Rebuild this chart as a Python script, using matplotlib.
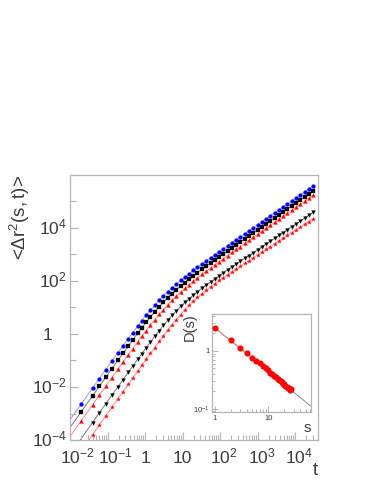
import numpy as np
import matplotlib
matplotlib.use("Agg")
import matplotlib.pyplot as plt
from matplotlib import ticker
from matplotlib.transforms import ScaledTranslation, blended_transform_factory

plt.rcParams['font.family'] = ['Liberation Sans', 'DejaVu Sans']
plt.rcParams['mathtext.fontset'] = 'custom'
plt.rcParams['mathtext.rm'] = 'Liberation Sans'
plt.rcParams['mathtext.it'] = 'Liberation Sans:italic'
plt.rcParams['mathtext.bf'] = 'Liberation Sans:bold'

# time grid; the first point (t=0.01) only carries the thin guide lines
t = [0.01, 0.02, 0.04, 0.06, 0.09, 0.13, 0.19, 0.26, 0.36, 0.47, 0.64, 0.82,
     1.07, 1.4, 1.8, 2.4, 3.1, 4.0, 5.2, 6.8, 8.9, 11.5, 15, 19.5, 25, 33, 43,
     56, 73, 95, 123, 160, 208, 270, 350, 456, 593, 770, 1000, 1300, 1690,
     2200, 2860, 3700, 4830, 6270, 8160, 10600, 13800, 17900, 23300, 30300]

# log10 <dr^2(s,t)>, one list per curve
logmsd_blue = [-3.24, -2.64, -2.04, -1.68, -1.34, -1.02, -0.70, -0.44, -0.17, 0.05, 0.30, 0.50,
               0.71, 0.90, 1.08, 1.28, 1.44, 1.59, 1.74, 1.88, 2.02, 2.15, 2.28, 2.40, 2.51, 2.64,
               2.76, 2.87, 2.99, 3.10, 3.22, 3.33, 3.45, 3.56, 3.67, 3.78, 3.90, 4.01, 4.12, 4.23,
               4.35, 4.46, 4.57, 4.68, 4.80, 4.91, 5.02, 5.14, 5.25, 5.36, 5.47, 5.59]
logmsd_square = [-3.53, -2.93, -2.33, -1.98, -1.63, -1.31, -0.99, -0.72, -0.45, -0.22, 0.03, 0.23,
                 0.44, 0.64, 0.83, 1.03, 1.20, 1.36, 1.52, 1.67, 1.81, 1.94, 2.07, 2.20, 2.32, 2.44,
                 2.56, 2.68, 2.80, 2.91, 3.03, 3.14, 3.25, 3.37, 3.48, 3.59, 3.71, 3.82, 3.93, 4.04,
                 4.16, 4.27, 4.38, 4.49, 4.61, 4.72, 4.83, 4.95, 5.06, 5.17, 5.28, 5.40]
logmsd_up = [-3.87, -3.27, -2.67, -2.32, -1.97, -1.65, -1.32, -1.05, -0.78, -0.55, -0.29, -0.09,
             0.13, 0.34, 0.53, 0.74, 0.92, 1.10, 1.27, 1.43, 1.58, 1.72, 1.86, 2.00, 2.12, 2.25,
             2.37, 2.49, 2.61, 2.73, 2.84, 2.96, 3.08, 3.19, 3.30, 3.42, 3.53, 3.65, 3.76, 3.87,
             3.99, 4.10, 4.22, 4.33, 4.44, 4.56, 4.67, 4.79, 4.90, 5.01, 5.13, 5.24]
logmsd_down = [-4.54, -3.94, -3.34, -2.98, -2.63, -2.31, -1.99, -1.72, -1.44, -1.21, -0.95, -0.74,
               -0.52, -0.30, -0.09, 0.13, 0.33, 0.51, 0.70, 0.87, 1.04, 1.19, 1.33, 1.47, 1.59, 1.73,
               1.85, 1.97, 2.08, 2.20, 2.31, 2.42, 2.53, 2.64, 2.75, 2.86, 2.96, 3.07, 3.18, 3.29,
               3.40, 3.50, 3.61, 3.72, 3.83, 3.94, 4.05, 4.15, 4.26, 4.37, 4.48, 4.59]
logmsd_star = [-5.00, -4.40, -3.80, -3.44, -3.09, -2.77, -2.44, -2.17, -1.89, -1.66, -1.40, -1.18,
               -0.96, -0.73, -0.52, -0.28, -0.07, 0.14, 0.34, 0.54, 0.73, 0.91, 1.08, 1.24, 1.38, 1.52,
               1.65, 1.78, 1.90, 2.02, 2.13, 2.24, 2.35, 2.45, 2.56, 2.67, 2.77, 2.88, 2.98, 3.09,
               3.19, 3.30, 3.40, 3.51, 3.61, 3.72, 3.82, 3.93, 4.03, 4.14, 4.24, 4.35]

# inset: diffusion coefficient against s
s_vals = [1, 2, 3, 4, 5, 6, 7, 8, 9, 10, 11, 12, 13, 14, 15, 16, 17, 18, 19, 20,
          21, 22, 23, 24, 25, 26, 27]
D_vals = [2.49, 1.52, 1.12, 0.91, 0.75, 0.67, 0.61, 0.55, 0.50, 0.46, 0.42, 0.40, 0.37, 0.36,
          0.33, 0.31, 0.30, 0.29, 0.27, 0.27, 0.25, 0.24, 0.23, 0.23, 0.22, 0.21, 0.22]
fit_s = [1, 63]
fit_D = [2.49, 0.11]

frame = '#b4b4b4'
txt = '#3a3a3a'

W, H = 382, 494
fig = plt.figure(figsize=(W / 100, H / 100), dpi=100)

def px_box(x0, y0, x1, y1):
    return [x0 / W, 1 - y1 / H, (x1 - x0) / W, (y1 - y0) / H]

ax = fig.add_axes(px_box(70, 175, 318, 440))

curves = [
    (logmsd_blue, 'o', '#0000ff', '#9a9aff', 2.8, 1),
    (logmsd_square, 's', '#000000', '#777777', 2.5, 1),
    (logmsd_up, '^', '#ff0000', '#ff8a8a', 2.8, 1),
    (logmsd_down, 'v', '#000000', '#777777', 2.8, 2),
    (logmsd_star, '*', '#ff0000', '#ff8a8a', 3.0, 2),
]
for vals, mk, mc, lc, ms, first in curves:
    y = 10 ** np.array(vals)
    ax.plot(t, y, '-', color=lc, lw=0.7, zorder=1)
    ax.plot(t[first:], y[first:], mk, color=mc, mec=mc, mew=0.2, ms=ms, ls='none', zorder=2)

ax.set_xscale('log')
ax.set_yscale('log')
ax.set_xlim(0.01, 4.1e4)
ax.set_ylim(1e-4, 1e6)

for sp in ax.spines.values():
    sp.set_color(frame)
    sp.set_linewidth(0.9)

ax.xaxis.set_major_locator(ticker.FixedLocator([10.0 ** e for e in range(-2, 5)]))
ax.xaxis.set_minor_locator(ticker.LogLocator(base=10, subs=np.arange(2, 10), numticks=30))
ax.yaxis.set_major_locator(ticker.FixedLocator([10.0 ** e for e in range(-4, 7, 2)]))
ax.yaxis.set_minor_locator(ticker.FixedLocator([10.0 ** e for e in range(-3, 7, 2)]))
ax.xaxis.set_major_formatter(ticker.NullFormatter())
ax.xaxis.set_minor_formatter(ticker.NullFormatter())
ax.yaxis.set_major_formatter(ticker.NullFormatter())
ax.yaxis.set_minor_formatter(ticker.NullFormatter())
ax.tick_params(which='both', direction='in', color=frame, top=False, right=False, width=0.8)
ax.tick_params(which='major', length=6)
ax.tick_params(which='minor', length=3.5)
ax.tick_params(axis='y', which='minor', length=4.5)

fs = 12.5
half10 = 1.112 * fs / 2

def dec_label(e):
    if e == 0:
        return '1'
    if e == 1:
        return '10'
    return r'$\mathregular{10^{%d}}$' % e

xtr = blended_transform_factory(ax.transData, ax.transAxes)
for e in range(-2, 5):
    lab = dec_label(e)
    if e in (0, 1):
        off = ScaledTranslation(0, -16.5 / 72, fig.dpi_scale_trans)
        ax.text(10.0 ** e, 0, lab, transform=xtr + off, ha='center', va='baseline',
                fontsize=fs, color=txt)
    else:
        off = ScaledTranslation(-half10 / 72, -16.5 / 72, fig.dpi_scale_trans)
        ax.text(10.0 ** e, 0, lab, transform=xtr + off, ha='left', va='baseline',
                fontsize=fs, color=txt)

ytr = blended_transform_factory(ax.transAxes, ax.transData)
for e in range(-4, 5, 2):
    lab = dec_label(e)
    dx = -12.5 if e == 0 else -2.2
    off = ScaledTranslation(dx / 72, -4.4 / 72, fig.dpi_scale_trans)
    ax.text(0, 10.0 ** e, lab, transform=ytr + off, ha='right', va='baseline',
            fontsize=fs, color=txt)

fig.text(20 / W, 1 - 175 / H, r'<$\mathregular{\Delta r^{2}(s,t)}$>', rotation=90,
         ha='center', va='top', fontsize=13.5, color=txt)
fig.text(315 / W, 1 - 470 / H, 't', ha='center', va='center', fontsize=13.5, color=txt)

# inset
axin = fig.add_axes(px_box(212, 314, 311, 412))
axin.set_xscale('log')
axin.set_yscale('log')
axin.plot(fit_s, fit_D, '-', color='#8a8a8a', lw=0.7, zorder=1)
axin.plot(s_vals, D_vals, '-', color='#ff8a8a', lw=0.8, zorder=2)
axin.plot(s_vals, D_vals, 'o', color='#ff0000', ms=4.4, mew=0, ls='none', zorder=3)
axin.set_xlim(0.89, 63)
axin.set_ylim(0.0877, 4.34)
for sp in axin.spines.values():
    sp.set_color(frame)
    sp.set_linewidth(0.9)
axin.xaxis.set_major_locator(ticker.FixedLocator([1, 10]))
axin.xaxis.set_major_formatter(ticker.FixedFormatter(['1', '10']))
axin.xaxis.set_minor_locator(ticker.LogLocator(base=10, subs=np.arange(2, 10), numticks=10))
axin.xaxis.set_minor_formatter(ticker.NullFormatter())
axin.yaxis.set_major_locator(ticker.FixedLocator([0.1, 1]))
axin.yaxis.set_major_formatter(ticker.FixedFormatter([r'$\mathregular{10^{-1}}$', '1']))
axin.yaxis.set_minor_locator(ticker.LogLocator(base=10, subs=np.arange(2, 10), numticks=10))
axin.yaxis.set_minor_formatter(ticker.NullFormatter())
axin.tick_params(which='both', direction='in', color=frame, top=False, right=False,
                 width=0.7, labelsize=5.5, labelcolor=txt, pad=2)
axin.tick_params(which='major', length=4)
axin.tick_params(which='minor', length=2)

fig.text(190 / W, 1 - 313 / H, 'D(s)', rotation=90, ha='center', va='top', fontsize=10.5, color=txt)
fig.text(307 / W, 1 - 428 / H, 's', ha='center', va='center', fontsize=11, color=txt)

fig.savefig('out.png', dpi=100)
